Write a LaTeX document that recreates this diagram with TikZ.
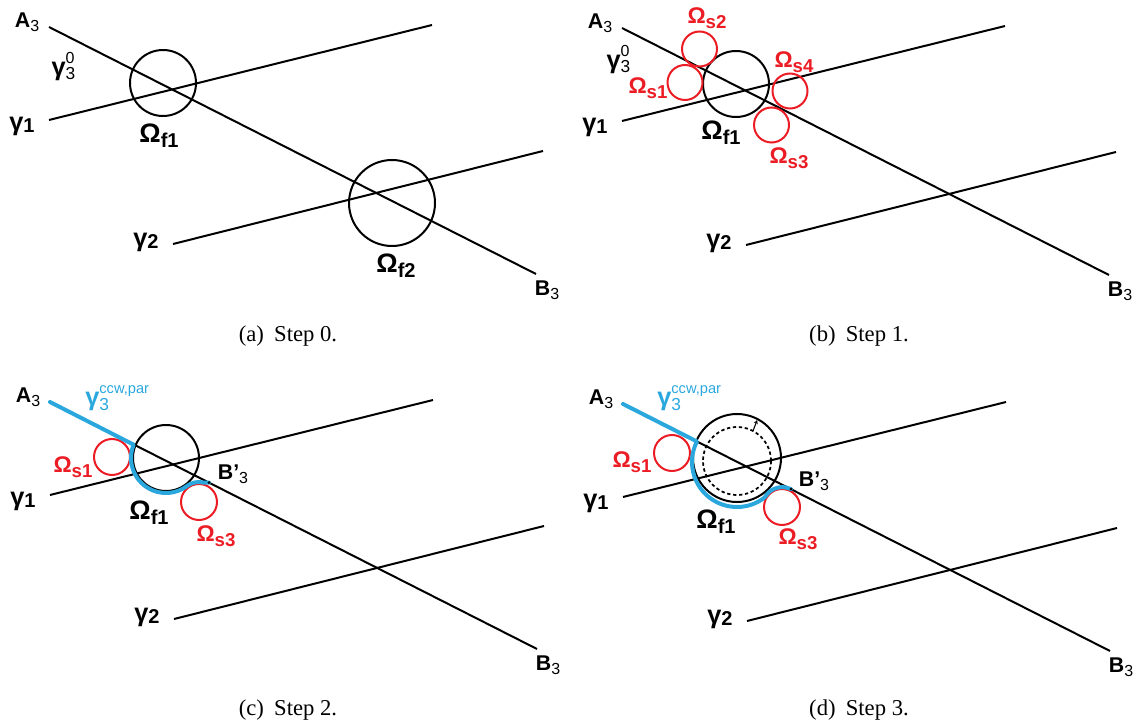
\documentclass[tikz,border=0pt]{standalone}
\usepackage{fontspec}
\setmainfont{Liberation Serif}
\setsansfont{Liberation Sans}
\usetikzlibrary{arrows.meta, calc}
\definecolor{obsred}{HTML}{EC1C24}
\definecolor{pathblue}{HTML}{2AA8DE}

% label macros
\newcommand{\Ptlab}[2]{{\fontsize{16}{16}\selectfont #1}\raisebox{-3pt}{\fontsize{12}{12}\selectfont\mdseries #2}}
\newcommand{\Bplab}{{\fontsize{16}{16}\selectfont B’}\raisebox{-3pt}{\fontsize{12}{12}\selectfont\mdseries 3}}
\newcommand{\Glab}[1]{{\fontsize{19}{19}\selectfont γ}\raisebox{-2pt}{\fontsize{15}{15}\selectfont #1}}
\newcommand{\Gzero}{{\fontsize{19}{19}\selectfont γ}\rlap{\raisebox{-3pt}{\fontsize{13}{13}\selectfont\mdseries 3}}\raisebox{9pt}{\fontsize{12}{12}\selectfont\mdseries 0}}
\newcommand{\Gccw}{{\fontsize{19}{19}\selectfont γ}\rlap{\raisebox{-4pt}{\fontsize{13}{13}\selectfont\mdseries 3}}\raisebox{8.5pt}{\fontsize{11}{11}\selectfont\mdseries ccw,par}}
\newcommand{\Omlab}[1]{{\fontsize{20}{20}\selectfont Ω}\raisebox{-4pt}{\fontsize{15}{15}\selectfont #1}}
\newcommand{\Omslab}[1]{{\fontsize{17}{17}\selectfont Ω}\raisebox{-4pt}{\fontsize{14}{14}\selectfont s#1}}

\begin{document}
\begin{tikzpicture}[x=0.75pt, y=-0.75pt,
    ln/.style={line width=1.5pt, black},
    fcirc/.style={line width=1.5pt, black},
    scirc/.style={line width=1.5pt, obsred},
    bpath/.style={line width=3pt, pathblue, line cap=round, line join=round},
    lbl/.style={font=\sffamily\bfseries, inner sep=0pt},
    rlbl/.style={lbl, text=obsred},
    capt/.style={font=\fontsize{17}{19}\selectfont, inner sep=0pt}
]
\useasboundingbox (0,0) rectangle (1145,723);

% the three lines, the same in all four steps
\foreach \dx/\dy/\p in {0/0/a, 573/1/b, 1/375/c, 574/377/d}{
  \begin{scope}[shift={(\dx,\dy)}]
    \coordinate (A3\p) at (49,27);
    \coordinate (B3\p) at (536,274);
    \coordinate (G1s\p) at (49,120);
    \coordinate (G1e\p) at (432,25);
    \coordinate (G2s\p) at (173,244);
    \coordinate (G2e\p) at (543,151);
    \draw[ln] (A3\p) -- (B3\p);
    \draw[ln] (G1s\p) -- (G1e\p);
    \draw[ln] (G2s\p) -- (G2e\p);
    \node[lbl] (lA\p) at (27,22) {\Ptlab{A}{3}};
    \node[lbl] (lB\p) at (547,290) {\Ptlab{B}{3}};
    \node[lbl] (lg1\p) at (22,126) {\Glab{1}};
    \node[lbl] (lg2\p) at (146,242) {\Glab{2}};
  \end{scope}
}

% step 0
\coordinate (F1a) at (163,83);
\coordinate (F2a) at (392,203);
\draw[fcirc] (F1a) circle[radius=33];
\draw[fcirc] (F2a) circle[radius=43];
\node[lbl] (lg3a) at (63,67) {\Gzero};
\node[lbl] (lf1a) at (159,136) {\Omlab{f1}};
\node[lbl] (lf2a) at (396,266) {\Omlab{f2}};

% step 1
\begin{scope}[shift={(573,1)}]
  \coordinate (F1b) at (163,83);
  \coordinate (S1b) at (112,81.5);
  \coordinate (S2b) at (126.5,48);
  \coordinate (S3b) at (198.5,124);
  \coordinate (S4b) at (217,90);
  \draw[fcirc] (F1b) circle[radius=33];
  \foreach \s in {S1b,S2b,S3b,S4b}
    \draw[scirc] (\s) circle[radius=17.5];
  \node[lbl] (lg3b) at (45,59) {\Gzero};
  \node[lbl] (lf1b) at (148,132) {\Omlab{f1}};
  \node[rlbl] (ls1b) at (75,87) {\Omslab{1}};
  \node[rlbl] (ls2b) at (134,17) {\Omslab{2}};
  \node[rlbl] (ls3b) at (216,157) {\Omslab{3}};
  \node[rlbl] (ls4b) at (221,61) {\Omslab{4}};
\end{scope}

% step 2
\begin{scope}[shift={(1,375)}]
  \coordinate (F1c) at (165,83);
  \coordinate (S1c) at (111,82);
  \coordinate (S3c) at (198,127);
  \coordinate (Bpc) at (208,107.6);
  \draw[fcirc] (F1c) circle[radius=33];
  \draw[scirc] (S1c) circle[radius=18];
  \draw[scirc] (S3c) circle[radius=18];
  \draw[bpath] (A3c) -- ($(F1c)+(202.4:35)$)
    arc[start angle=202.4, end angle=55, radius=35]
    arc[start angle=230, end angle=285, radius=20] -- (Bpc);
  \fill (Bpc) circle[radius=1.6];
  \node[lbl, text=pathblue, anchor=base west] (lg3c) at (84,30) {\Gccw};
  \node[rlbl] (ls1c) at (72,92) {\Omslab{1}};
  \node[lbl] (lf1c) at (148,138) {\Omlab{f1}};
  \node[lbl] (lbpc) at (232,99) {\Bplab};
  \node[rlbl] (ls3c) at (215,161) {\Omslab{3}};
\end{scope}

% step 3
\begin{scope}[shift={(574,377)}]
  \coordinate (F1d) at (163,81);
  \coordinate (FDd) at (163,84);
  \coordinate (Cd) at (163,85);
  \coordinate (S1d) at (98,76);
  \coordinate (S3d) at (208,130);
  \coordinate (Bpd) at (217,112.1);
  \draw[fcirc] (F1d) circle[radius=44];
  \draw[line width=1.3pt, dash pattern=on 2.5pt off 2pt] (FDd) circle[radius=34];
  \draw[line width=0.8pt, -{Stealth[length=3pt, width=3pt]}] ($(FDd)+(-62:34)$) -- ($(F1d)+(-62:43)$);
  \draw[scirc] (S1d) circle[radius=18];
  \draw[scirc] (S3d) circle[radius=18];
  \draw[bpath] (A3d) -- ($(Cd)+(207.1:45)$)
    arc[start angle=207.1, end angle=52, radius=45]
    arc[start angle=209, end angle=285, radius=20] -- (Bpd);
  \fill (Bpd) circle[radius=1.6];
  \node[lbl, text=pathblue, anchor=base west] (lg3d) at (83,28) {\Gccw};
  \node[rlbl] (ls1d) at (58,85) {\Omslab{1}};
  \node[lbl] (lf1d) at (142,145) {\Omlab{f1}};
  \node[lbl] (lbpd) at (240,104) {\Bplab};
  \node[rlbl] (ls3d) at (224,162) {\Omslab{3}};
\end{scope}

% captions
\node[capt] (capa) at (288,336) {(a)\hspace{0.45em}Step 0.};
\node[capt] (capb) at (859,336) {(b)\hspace{0.45em}Step 1.};
\node[capt] (capc) at (288,710) {(c)\hspace{0.45em}Step 2.};
\node[capt] (capd) at (859,710) {(d)\hspace{0.45em}Step 3.};
\end{tikzpicture}
\end{document}
